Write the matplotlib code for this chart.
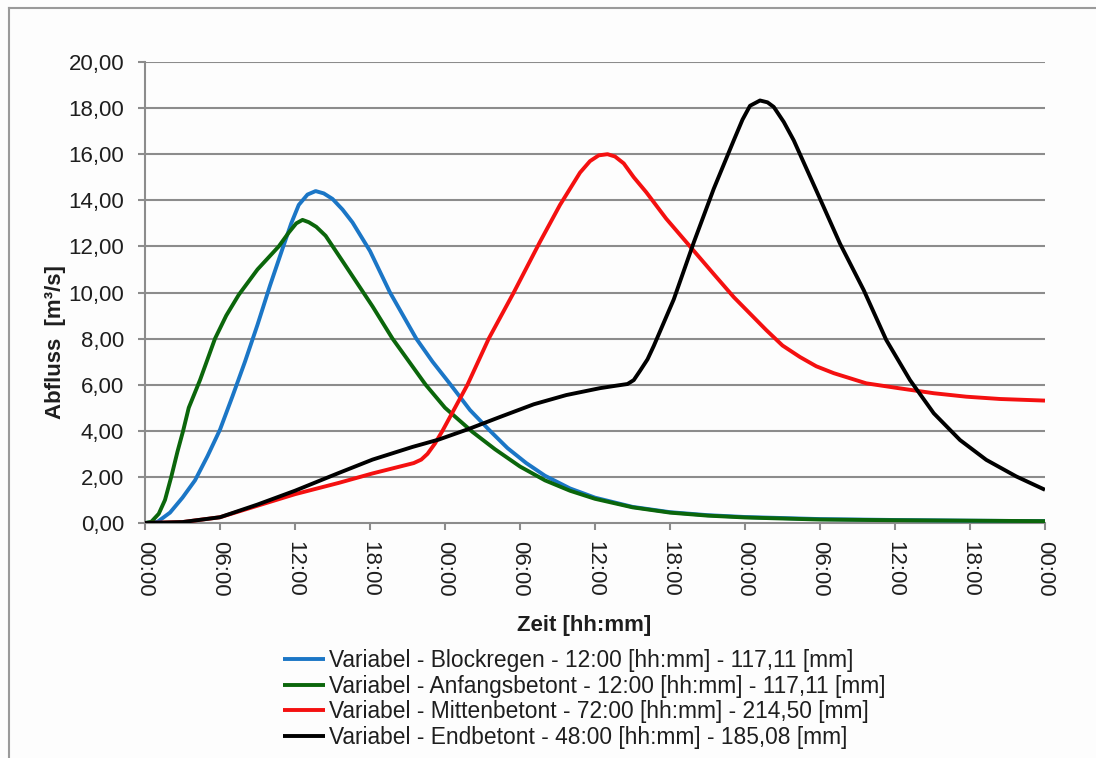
import matplotlib
matplotlib.use('Agg')
import matplotlib.pyplot as plt
from matplotlib.lines import Line2D

plt.rcParams['font.family'] = ['Liberation Sans', 'DejaVu Sans']

# ---------------- data (hours since start, discharge m³/s) ----------------
blue_h = [0, 1, 2, 3, 4, 5, 6, 7, 8, 9, 10, 11, 11.7, 12.3, 13, 13.65, 14.3, 15, 15.8, 16.6, 18,
          19.6, 21.7, 23, 24.45, 26, 27.6, 29, 30.5, 32, 34, 36, 39, 42, 45, 48, 54, 60, 66, 72]
blue_v = [0, 0.05, 0.45, 1.1, 1.85, 2.9, 4.05, 5.5, 7.0, 8.6, 10.3, 11.9, 13.0, 13.8, 14.25, 14.4, 14.3, 14.06, 13.6, 13.04, 11.8,
          10.0, 8.0, 7.0, 6.0, 4.9, 4.0, 3.25, 2.6, 2.05, 1.5, 1.1, 0.7, 0.47, 0.34, 0.26, 0.17, 0.13, 0.1, 0.08]

green_h = [0, 0.5, 1.1, 1.6, 2.1, 2.6, 3.05, 3.5, 4.4, 5.6, 6.5, 7.5, 9, 10.7, 11.5, 12.1, 12.6, 13.1, 13.7, 14.45, 16, 18.2,
           19.8, 22.45, 24, 26.2, 28, 30, 32, 34, 36, 39, 42, 45, 48, 54, 60, 66, 72]
green_v = [0, 0.05, 0.4, 1.0, 2.0, 3.1, 4.0, 5.0, 6.2, 8.0, 9.0, 9.9, 11.0, 12.0, 12.6, 13.0, 13.15, 13.05, 12.85, 12.46, 11.2, 9.4,
           8.0, 6.0, 5.0, 3.95, 3.2, 2.45, 1.85, 1.4, 1.05, 0.68, 0.45, 0.32, 0.24, 0.15, 0.12, 0.1, 0.08]

red_h = [0, 3, 6, 9, 12, 15.5, 18.2, 20.4, 21.5, 22.1, 22.6, 23.2, 23.8, 25.8, 27.5, 29.5, 31.6, 33.2, 34.8,
         35.6, 36.3, 37.0, 37.6, 38.3, 39.1, 40.1, 41.7, 43.6, 45.5, 47.1, 49.7, 51.0, 52.4, 53.7, 55.1,
         57.7, 60.4, 63.1, 65.7, 68.4, 72]
red_v = [0, 0.04, 0.25, 0.75, 1.25, 1.74, 2.15, 2.45, 2.6, 2.75, 3.0, 3.45, 4.0, 6.0, 8.0, 10.0, 12.2, 13.8, 15.2,
         15.7, 15.95, 16.0, 15.9, 15.6, 15.0, 14.35, 13.2, 12.0, 10.8, 9.8, 8.37, 7.7, 7.2, 6.8, 6.5,
         6.06, 5.84, 5.63, 5.48, 5.38, 5.31]

black_h = [0, 3, 6, 9, 12, 15.5, 18.2, 21.4, 23.5, 26, 28.4, 31.1, 33.7, 36.4, 37.6, 38.6, 39.1, 39.6, 40.2, 40.7,
           42.3, 43.9, 45.5, 47.1, 47.8, 48.4, 49.2, 49.8, 50.3, 51.1, 51.9, 53.7, 55.6, 57.5, 59.3, 61.2,
           63.1, 65.2, 67.3, 69.7, 72]
black_v = [0, 0.04, 0.25, 0.8, 1.4, 2.17, 2.75, 3.3, 3.62, 4.1, 4.6, 5.15, 5.55, 5.85, 5.95, 6.03, 6.2, 6.6, 7.1, 7.68,
           9.7, 12.17, 14.5, 16.6, 17.5, 18.1, 18.33, 18.25, 18.05, 17.4, 16.6, 14.43, 12.12, 10.1, 7.94, 6.2,
           4.76, 3.6, 2.74, 2.02, 1.44]

series_labels = [
    'Variabel - Blockregen - 12:00 [hh:mm] - 117,11 [mm]',
    'Variabel - Anfangsbetont - 12:00 [hh:mm] - 117,11 [mm]',
    'Variabel - Mittenbetont - 72:00 [hh:mm] - 214,50 [mm]',
    'Variabel - Endbetont - 48:00 [hh:mm] - 185,08 [mm]',
]
series_colors = ['#1b76c6', '#0b660b', '#f41010', '#000000']

x_ticks = [0, 6, 12, 18, 24, 30, 36, 42, 48, 54, 60, 66, 72]
x_tick_labels = ['00:00', '06:00', '12:00', '18:00', '00:00', '06:00', '12:00',
                 '18:00', '00:00', '06:00', '12:00', '18:00', '00:00']
y_ticks = [0, 2, 4, 6, 8, 10, 12, 14, 16, 18, 20]
y_tick_labels = ['0,00', '2,00', '4,00', '6,00', '8,00', '10,00', '12,00',
                 '14,00', '16,00', '18,00', '20,00']

# ---------------- figure ----------------
W, H = 1096, 758
fig = plt.figure(figsize=(W / 100, H / 100), dpi=100)
fig.patch.set_facecolor('#fdfdfd')

# outer chart frame (top and left visible)
fig.add_artist(Line2D([9 / W, 1.0], [1 - 8 / H, 1 - 8 / H], transform=fig.transFigure,
                      color='#9a9a9a', lw=1.5))
fig.add_artist(Line2D([9 / W, 9 / W], [0, 1 - 8 / H], transform=fig.transFigure,
                      color='#9a9a9a', lw=1.5))

left, right, top, bottom = 145, 1045, 62, 523
ax = fig.add_axes([left / W, 1 - bottom / H, (right - left) / W, (bottom - top) / H])
ax.set_facecolor('#fdfdfd')

grid_c = '#8c8c8c'
for y in y_ticks[1:]:
    ax.axhline(y, color=grid_c, lw=1.5, zorder=1)

handles = []
for hs, vs, c, lab in zip([blue_h, green_h, red_h, black_h],
                          [blue_v, green_v, red_v, black_v],
                          series_colors, series_labels):
    ln, = ax.plot(hs, vs, color=c, lw=2.8, label=lab, zorder=3,
                  solid_joinstyle='round', solid_capstyle='butt')
    handles.append(ln)

ax.set_xlim(0, 72)
ax.set_ylim(0, 20)
ax.set_xticks(x_ticks)
ax.set_xticklabels(x_tick_labels, rotation=270)
ax.set_yticks(y_ticks)
ax.set_yticklabels(y_tick_labels)

for s in ['top', 'right']:
    ax.spines[s].set_visible(False)
for s in ['left', 'bottom']:
    ax.spines[s].set_color(grid_c)
    ax.spines[s].set_linewidth(1.5)

ax.tick_params(axis='both', colors=grid_c, labelcolor='#1e1e1e', labelsize=16,
               length=5, width=1.5)
ax.tick_params(axis='y', pad=10)
ax.tick_params(axis='x', pad=8)

fig.text(55 / W, 1 - 342 / H, 'Abfluss  [m³/s]', rotation=90, ha='center', va='center',
         fontsize=16, fontweight='bold', color='#1e1e1e')
fig.text(584 / W, 1 - 625 / H, 'Zeit [hh:mm]', ha='center', va='center',
         fontsize=16, fontweight='bold', color='#1e1e1e')

fig.legend(handles, series_labels, loc='upper left', bbox_to_anchor=(283 / W, 1 - 649 / H),
           frameon=False, fontsize=16.4, handlelength=1.85, handletextpad=0.15,
           labelspacing=0.12, borderpad=0, borderaxespad=0, labelcolor='#1e1e1e')

fig.savefig('out.png', dpi=100, facecolor=fig.get_facecolor())
